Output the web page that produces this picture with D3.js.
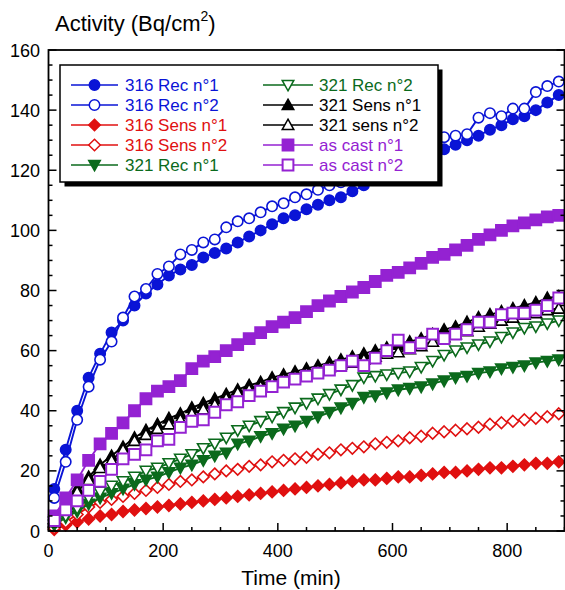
<!DOCTYPE html>
<html>
<head>
<meta charset="utf-8">
<script src="https://cdn.jsdelivr.net/npm/d3@7"></script>
<style>
  html, body { margin: 0; padding: 0; background: #fff; }
  svg { display: block; font-family: "Liberation Sans", Arial, Helvetica, sans-serif; }
</style>
</head>
<body>
<svg id="chart" width="565" height="590"></svg>
<script>
// Sampling times (min)
const times = [10, 30, 50, 70, 90, 110, 130, 150, 170, 190, 210, 230, 250, 270, 290,
  310, 330, 350, 370, 390, 410, 430, 450, 470, 490, 510, 530, 550, 570, 590,
  610, 630, 650, 670, 690, 710, 730, 750, 770, 790, 810, 830, 850, 870, 890];

// Activity (Bq/cm2) for each sample
const rec316n1 = [14, 27, 40, 51, 59, 66, 70, 75, 79, 82, 85, 87, 88.5, 91, 92.5,
  94, 96, 98, 100, 102, 104, 105, 107, 108.5, 110, 111, 113, 115, 117, 119,
  121, 122.5, 124, 125.5, 127, 128.5, 130, 131.5, 133.5, 135, 137, 138, 140, 142.5, 145];
const rec316n2 = [11, 23, 37, 48, 57, 63, 71, 78, 80.5, 85.5, 88, 92, 93.5, 96, 97,
  101, 103, 104, 106, 108, 109, 111, 112, 113.5, 115, 116, 117.5, 119, 121, 122,
  124, 125, 127, 129, 131, 131.5, 132, 137.5, 139, 138, 140.5, 140.5, 146, 148, 149.5];
const sens316n1 = [0.5, 2, 3, 4, 5, 5.5, 6.5, 7, 7.5, 8, 8.5, 9, 9.5, 10, 10.5,
  11, 11.5, 12, 12.5, 13, 13.5, 14, 14.5, 15, 15.5, 16, 16.5, 17, 17, 17.5,
  18, 18, 18.5, 19, 19.5, 19.5, 20, 20.5, 21, 21, 21.5, 22, 22.5, 22.5, 23];
const sens316n2 = [1, 3, 5.5, 8, 9.5, 10.5, 11.5, 12.5, 13.5, 14.5, 15.5, 16.5, 17, 18, 19,
  20, 20.5, 21.5, 22, 23, 23.5, 24, 24.5, 25.5, 26, 27, 27.5, 28, 29, 29.5,
  30, 31, 31.5, 32.5, 33, 33.5, 34, 34.5, 35.5, 36, 36.5, 37, 37.5, 38, 39];
const rec321n1 = [2, 4.5, 6.5, 9, 11, 12.5, 14, 15.5, 17, 18, 19.5, 21, 22, 23.5, 25,
  26, 29, 30, 31.5, 32.5, 34, 35, 36.5, 38, 39.5, 41, 42.5, 44.5, 45, 46,
  47, 47.5, 48, 49, 50, 51, 51.5, 52.5, 53, 54, 54.5, 55, 56, 56.5, 57];
const rec321n2 = [3, 5, 7.5, 11, 13, 15, 16.5, 18, 20, 21, 22.5, 24, 25.5, 27.5, 29,
  31, 33.5, 35, 36.5, 38, 39.5, 41, 42.5, 44, 45.5, 47, 48.5, 51, 51.5, 52,
  52.5, 53, 54.5, 56.5, 58.5, 60, 61, 62, 63, 64.5, 66, 67.5, 68, 69, 70];
const sens321n1 = [4, 9, 14, 18, 22, 25, 28, 31, 33.5, 35.5, 37.5, 39, 41, 42.5, 44,
  45.5, 47, 48.5, 49.5, 51, 52, 53, 54, 55, 56, 57, 58, 59, 60, 61,
  62, 63, 64, 65.5, 67, 68, 69.5, 71, 72, 73, 74, 75, 76, 77.5, 78];
const sens321n2 = [3, 8, 13, 17, 21, 23.5, 27, 30, 32, 34, 35.5, 37, 39, 40.5, 42,
  44, 46, 47, 48, 49.5, 50.5, 51.5, 52.5, 53.5, 54.5, 55.5, 56, 57, 58, 59,
  59.5, 60.5, 61.5, 63, 64.5, 65.5, 66.5, 68, 69, 70, 71, 72, 72.5, 73.5, 74];
const cast1 = [5, 11, 17, 23.5, 29, 32.5, 36, 40, 44, 46.5, 48, 50, 54, 56.5, 58,
  60, 62, 64, 66, 68, 69.5, 71, 73, 75, 76.5, 78, 79.5, 81, 83, 85,
  86, 87.5, 89, 91, 92, 93.5, 95, 97, 98.5, 100, 101.5, 102.5, 103.5, 104.5, 105];
const cast2 = [3.5, 7, 10, 13.5, 16.5, 20.5, 24, 25.5, 27, 30, 30.5, 34.5, 36.5, 37, 39.5,
  42, 43, 45, 46.5, 48, 49.5, 50.5, 51.5, 52.5, 53.5, 55, 56.5, 55, 57.5, 60,
  63.5, 61, 62.5, 65.5, 64, 65.5, 67, 69.5, 69.5, 72, 72.5, 72.5, 73.5, 75, 77.5];

// Axis ticks
const xTicks = [0, 200, 400, 600, 800];
const yTicks = [0, 20, 40, 60, 80, 100, 120, 140, 160];

const BLUE = "#0a14d6", RED = "#e01010", GREEN = "#0b6a1c", BLACK = "#000", PURPLE = "#9422d2";

const series = [
  { name: "316 Rec n°1",  values: rec316n1,  color: BLUE,   shape: "circle",   filled: true },
  { name: "316 Rec n°2",  values: rec316n2,  color: BLUE,   shape: "circle",   filled: false },
  { name: "316 Sens n°1", values: sens316n1, color: RED,    shape: "diamond",  filled: true },
  { name: "316 Sens n°2", values: sens316n2, color: RED,    shape: "diamond",  filled: false },
  { name: "321 Rec n°1",  values: rec321n1,  color: GREEN,  shape: "triDown",  filled: true },
  { name: "321 Rec n°2",  values: rec321n2,  color: GREEN,  shape: "triDown",  filled: false },
  { name: "321 Sens n°1", values: sens321n1, color: BLACK,  shape: "triUp",    filled: true },
  { name: "321 sens n°2", values: sens321n2, color: BLACK,  shape: "triUp",    filled: false },
  { name: "as cast n°1",  values: cast1,     color: PURPLE, shape: "square",   filled: true },
  { name: "as cast n°2",  values: cast2,     color: PURPLE, shape: "square",   filled: false }
];

const svg = d3.select("#chart");
const x = d3.scaleLinear().domain([0, 900]).range([48.5, 564.5]);
const y = d3.scaleLinear().domain([0, 160]).range([531, 50]);

// marker outline centred on 0,0
function markerPath(shape) {
  switch (shape) {
    case "circle": return d3.symbol(d3.symbolCircle, Math.PI * 5.2 * 5.2)();
    case "diamond": { const r = 5.8; return `M0,${-r}L${r},0L0,${r}L${-r},0Z`; }
    case "triUp": { const w = 5.8, h = 5.2; return `M0,${-h - 0.6}L${w},${h - 0.6}L${-w},${h - 0.6}Z`; }
    case "triDown": { const w = 5.8, h = 5.2; return `M0,${h + 0.6}L${w},${-h + 0.6}L${-w},${-h + 0.6}Z`; }
    case "square": { const s = 5.4; return `M${-s},${-s}H${s}V${s}H${-s}Z`; }
  }
}

const line = d3.line().x((d, i) => x(times[i])).y(d => y(d));

const plot = svg.append("g");
series.forEach(s => {
  const g = plot.append("g");
  g.append("path")
    .attr("d", line(s.values))
    .attr("fill", "none")
    .attr("stroke", s.color)
    .attr("stroke-width", 1.9)
    .attr("stroke-linejoin", "round");
  g.selectAll("path.m")
    .data(s.values)
    .join("path")
    .attr("class", "m")
    .attr("d", markerPath(s.shape))
    .attr("transform", (d, i) => `translate(${x(times[i])},${y(d)})`)
    .attr("fill", s.filled ? s.color : "#fff")
    .attr("stroke", s.color)
    .attr("stroke-width", s.shape === "square" ? 2 : 1.6);
});

// Frame and ticks
const axes = svg.append("g").attr("stroke", "#000").attr("fill", "none");
axes.append("rect")
  .attr("x", x(0)).attr("y", y(160))
  .attr("width", x(900) - x(0)).attr("height", y(0) - y(160))
  .attr("stroke-width", 1.8);

const yMinor = d3.range(0, 161, 5);
const xMinor = d3.range(0, 901, 50);
yMinor.forEach(v => {
  const len = v % 20 === 0 ? 8 : 4;
  axes.append("line").attr("x1", x(0)).attr("x2", x(0) + len).attr("y1", y(v)).attr("y2", y(v)).attr("stroke-width", 1.5);
  axes.append("line").attr("x1", x(900)).attr("x2", x(900) - len).attr("y1", y(v)).attr("y2", y(v)).attr("stroke-width", 1.5);
});
xMinor.forEach(t => {
  const len = t % 200 === 0 ? 8 : 4;
  axes.append("line").attr("x1", x(t)).attr("x2", x(t)).attr("y1", y(0)).attr("y2", y(0) - len).attr("stroke-width", 1.5);
});

// Tick labels
svg.append("g").selectAll("text")
  .data(xTicks).join("text")
  .attr("x", d => x(d)).attr("y", 557)
  .attr("text-anchor", "middle")
  .attr("font-size", 18)
  .text(d => d);
svg.append("g").selectAll("text")
  .data(yTicks).join("text")
  .attr("x", 40).attr("y", d => y(d) + 6.5)
  .attr("text-anchor", "end")
  .attr("font-size", 18)
  .text(d => d);

// Axis titles
const yTitle = svg.append("text").attr("x", 55).attr("y", 31).attr("font-size", 22);
yTitle.append("tspan").text("Activity (Bq/cm");
yTitle.append("tspan").attr("font-size", 14).attr("dy", -10).text("2");
yTitle.append("tspan").attr("dy", 10).text(")");
svg.append("text").attr("x", 291).attr("y", 585).attr("text-anchor", "middle").attr("font-size", 21).text("Time (min)");

// Legend
const lg = svg.append("g");
lg.append("rect").attr("x", 64.5).attr("y", 69.5).attr("width", 378).attr("height", 117).attr("fill", "#000");
lg.append("rect").attr("x", 60).attr("y", 65).attr("width", 378).attr("height", 117)
  .attr("fill", "#fff").attr("stroke", "#000").attr("stroke-width", 1.5);
series.forEach((s, i) => {
  const col = Math.floor(i / 5), row = i % 5;
  const lx0 = col === 0 ? 71 : 263, lx1 = col === 0 ? 118 : 313;
  const cy = 85 + row * 20;
  const e = lg.append("g");
  e.append("line").attr("x1", lx0).attr("x2", lx1).attr("y1", cy).attr("y2", cy)
    .attr("stroke", s.color).attr("stroke-width", 1.5);
  e.append("path").attr("d", markerPath(s.shape))
    .attr("transform", `translate(${(lx0 + lx1) / 2},${cy})`)
    .attr("fill", s.filled ? s.color : "#fff")
    .attr("stroke", s.color)
    .attr("stroke-width", s.shape === "square" ? 2 : 1.5);
  e.append("text").attr("x", col === 0 ? 125 : 319).attr("y", cy + 6)
    .attr("font-size", 17).attr("fill", s.color).text(s.name);
});
</script>
</body>
</html>
